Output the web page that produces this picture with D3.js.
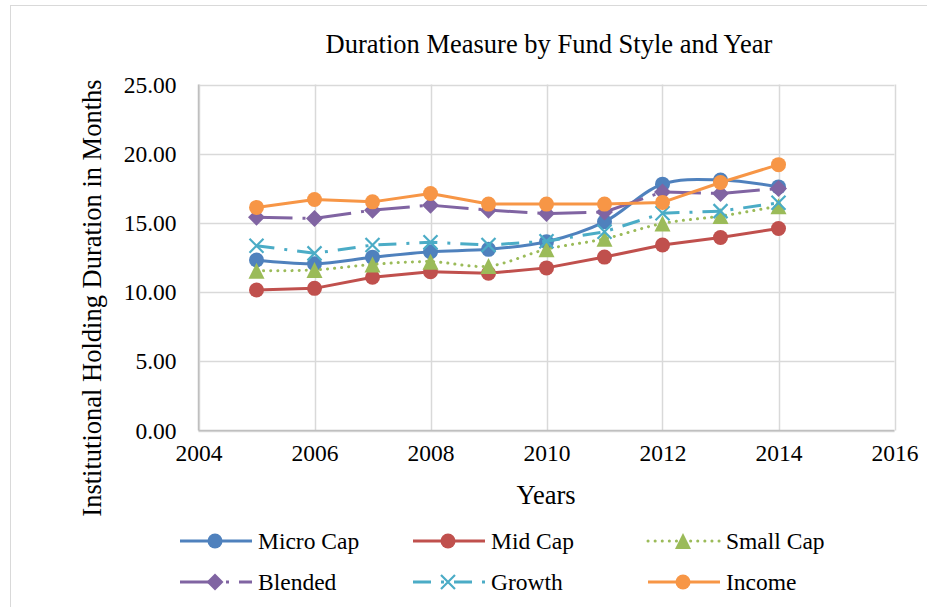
<!DOCTYPE html>
<html><head><meta charset="utf-8">
<script src="https://cdn.jsdelivr.net/npm/d3@7"></script>
<style>body{margin:0;background:#fff}</style>
</head><body>
<svg id="c" width="927" height="607"></svg>
<script>
const years = [2005,2006,2007,2008,2009,2010,2011,2012,2013,2014];
const microCap = [12.32,12.05,12.51,12.92,13.09,13.64,15.08,17.8,18.1,17.6];
const midCap   = [10.15,10.27,11.07,11.47,11.36,11.75,12.53,13.4,13.95,14.6];
const smallCap = [11.54,11.6,12.0,12.2,11.88,13.1,13.85,14.96,15.49,16.21];
const blended  = [15.4,15.32,15.92,16.28,15.92,15.68,15.78,17.24,17.12,17.49];
const growth   = [13.35,12.8,13.4,13.6,13.4,13.68,14.36,15.7,15.85,16.45];
const income   = [16.12,16.69,16.52,17.12,16.36,16.36,16.36,16.48,17.92,19.21];
const seriesNames = ["Micro Cap","Mid Cap","Small Cap","Blended","Growth","Income"];
const yTicks = [0,5,10,15,20,25];
const xTicks = [2004,2006,2008,2010,2012,2014,2016];

const FONT = "Liberation Serif, Times New Roman, serif";
const seriesData = [microCap, midCap, smallCap, blended, growth, income];
const styles = [
  {color:"#4f81bd", dash:null, marker:"circle", curve:d3.curveCatmullRom.alpha(0.5)},
  {color:"#c0504d", dash:null, marker:"circle", curve:d3.curveLinear},
  {color:"#9bbb59", dash:"0.1 7", cap:"round", marker:"triangle", curve:d3.curveCatmullRom.alpha(0.5)},
  {color:"#8064a2", dash:"36 10 3 10", marker:"diamond", curve:d3.curveLinear},
  {color:"#4bacc6", dash:"18 10 3 10", marker:"x", curve:d3.curveLinear},
  {color:"#f79646", dash:null, marker:"circle", curve:d3.curveLinear}
];

const svg = d3.select("#c");
svg.append("rect").attr("x",10.5).attr("y",5.5).attr("width",930).attr("height",620)
  .attr("fill","#fff").attr("stroke","#d9d9d9");

const L=198.5, R=894.5, T=84.5, B=430.5;
const x = d3.scaleLinear().domain([2004,2016]).range([L,R]);
const y = d3.scaleLinear().domain([0,25]).range([B,T]);

const g = svg.append("g");
g.selectAll("line.h").data(yTicks).join("line").attr("x1",L).attr("x2",R)
  .attr("y1",d=>Math.round(y(d))+0.5).attr("y2",d=>Math.round(y(d))+0.5)
  .attr("stroke","#d9d9d9").attr("stroke-width",1.5);
g.selectAll("line.v").data(xTicks).join("line").attr("y1",T).attr("y2",B)
  .attr("x1",d=>Math.round(x(d))+0.5).attr("x2",d=>Math.round(x(d))+0.5)
  .attr("stroke","#d9d9d9").attr("stroke-width",1.5);
g.append("line").attr("x1",L).attr("x2",L).attr("y1",T).attr("y2",B).attr("stroke","#bfbfbf").attr("stroke-width",1.5);
g.append("line").attr("x1",L).attr("x2",R).attr("y1",B).attr("y2",B).attr("stroke","#bfbfbf").attr("stroke-width",1.5);

const yAxis = svg.append("g").attr("transform",`translate(${L},0)`)
  .call(d3.axisLeft(y).tickValues(yTicks).tickFormat(d3.format(".2f")).tickSize(0).tickPadding(22));
const xAxis = svg.append("g").attr("transform",`translate(0,${B})`)
  .call(d3.axisBottom(x).tickValues(xTicks).tickFormat(d3.format("d")).tickSize(0).tickPadding(14));
[yAxis,xAxis].forEach(a=>{a.select(".domain").remove();
  a.attr("font-family",FONT).attr("font-size",23.5);
  a.selectAll("text").attr("font-family",FONT).attr("font-size",23.5).attr("fill","#000");});

function txt(sel){ return sel.attr("font-family",FONT).attr("fill","#000"); }
txt(svg.append("text")).attr("x",549).attr("y",53).attr("text-anchor","middle").attr("font-size",26.5)
  .text("Duration Measure by Fund Style and Year");
txt(svg.append("text")).attr("x",546).attr("y",504).attr("text-anchor","middle").attr("font-size",26.5).text("Years");
txt(svg.append("text")).attr("transform","translate(101,298) rotate(-90)").attr("text-anchor","middle")
  .attr("font-size",26.5).text("Institutional Holding Duration in Months");

function marker(sel, type, color, cx, cy){
  if(type==="circle"){
    sel.append("circle").attr("cx",cx).attr("cy",cy).attr("r",7.5).attr("fill",color);
  } else if(type==="diamond"){
    const r=8.5;
    sel.append("path").attr("d",`M${cx},${cy-r}L${cx+r},${cy}L${cx},${cy+r}L${cx-r},${cy}Z`).attr("fill",color);
  } else if(type==="triangle"){
    const r=8;
    sel.append("path").attr("d",`M${cx},${cy-r}L${cx+r},${cy+r}L${cx-r},${cy+r}Z`).attr("fill",color);
  } else if(type==="x"){
    const r=7;
    sel.append("path").attr("d",`M${cx-r},${cy-r}L${cx+r},${cy+r}M${cx-r},${cy+r}L${cx+r},${cy-r}`)
      .attr("stroke",color).attr("stroke-width",2.2).attr("fill","none");
  }
}

seriesData.forEach((vals,i)=>{
  const st = styles[i];
  const pts = years.map((yr,j)=>[x(yr),y(vals[j])]);
  const sg = svg.append("g");
  sg.append("path").attr("d",d3.line().curve(st.curve)(pts)).attr("fill","none")
    .attr("stroke",st.color).attr("stroke-width",3)
    .attr("stroke-dasharray",st.dash).attr("stroke-linecap",st.cap||"butt").attr("stroke-linejoin","round");
  pts.forEach(p=>marker(sg, st.marker, st.color, p[0], p[1]));
});

const legX = [180, 413, 648], legY = [541, 582];
seriesNames.forEach((name,i)=>{
  const st = styles[i];
  const lx = legX[i%3], ly = legY[Math.floor(i/3)];
  const lg = svg.append("g");
  lg.append("line").attr("x1",lx).attr("x2",lx+72).attr("y1",ly).attr("y2",ly)
    .attr("stroke",st.color).attr("stroke-width",3)
    .attr("stroke-dasharray",st.dash).attr("stroke-linecap",st.cap||"butt");
  marker(lg, st.marker, st.color, lx+35, ly);
  txt(lg.append("text")).attr("x",lx+78).attr("y",ly+8).attr("font-size",23.5).text(name);
});
</script>
</body></html>
